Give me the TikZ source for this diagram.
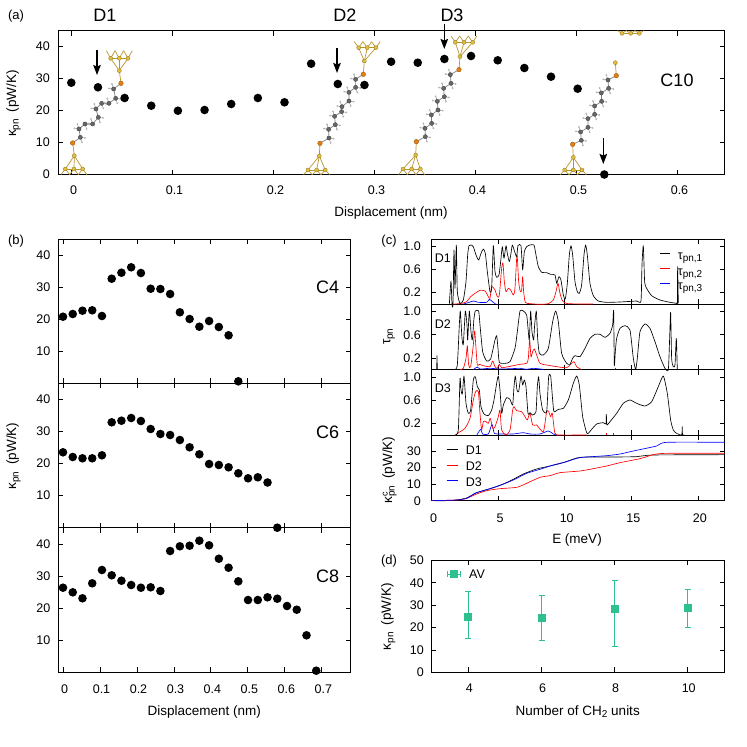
\documentclass[tikz,border=0pt]{standalone}
\usepackage{fontspec}
\usetikzlibrary{arrows.meta}
\setmainfont{Liberation Sans}
\definecolor{goldball}{HTML}{E3BE3C}
\definecolor{goldstick}{HTML}{B8962E}
\definecolor{sulfur}{HTML}{E87F10}
\definecolor{carbon}{HTML}{666666}
\definecolor{hydrogen}{HTML}{B5B5B5}
\definecolor{avgreen}{HTML}{2EC08E}
\tikzset{
	ticklab/.style={font=\fontsize{12.5}{14}\selectfont,inner sep=0pt},
	axislab/.style={font=\fontsize{13.5}{15}\selectfont,inner sep=0pt},
	biglab/.style={font=\fontsize{18}{20}\selectfont,inner sep=0pt},
	frameline/.style={line width=0.9pt},
	tickline/.style={line width=0.7pt},
	curve/.style={line width=0.65pt,line join=round},
	goldstk/.style={goldstick,line width=0.7pt},
	bond/.style={gray,line width=0.7pt},
	avbar/.style={avgreen,line width=0.8pt},
}
\newcommand\subs[1]{\raisebox{-2.5pt}{\fontsize{10}{10}\selectfont #1}}
% atoms, everything in the 3x crop coordinates of the scope around them
\newcommand\atom[3]{\filldraw[fill=#1,draw=#1!65!black,line width=0.35pt] (#2) circle (#3);}
\newcommand\goldbase[3]{%
	\draw[goldstk] (#1-26,#2)--(#1+26,#2);
	\foreach \d in {-26,0,26}{
		\draw[goldstk] (#1+\d-13,#3)--(#1+\d,#2)--(#1+\d+13,#3);
		\atom{goldball}{#1+\d,#2}{2pt}
	}
}
\newcommand\goldtip[5]{%
	\foreach \d in {-26,0,26}
		\draw[goldstk] (#1,#2)--(#3+\d,#4);
	\goldbase{#3}{#4}{#5}
	\atom{goldball}{#1,#2}{2pt}
}
\newcommand\alkyl[5]{%
	\draw[bond] (#1,#2) foreach \cx/\cy in {#3} {--(\cx,\cy)} --(#4,#5);
	\foreach \cx/\cy [count=\i] in {#3}{
		\ifodd\i \def\sg{1}\else\def\sg{-1}\fi
		\draw[bond,line width=0.4pt] (\cx+\sg*14,\cy+\sg*2)--(\cx,\cy)--(\cx+\sg*5,\cy+\sg*15);
		\fill[hydrogen] (\cx+\sg*14,\cy+\sg*2) circle (1pt);
		\fill[hydrogen] (\cx+\sg*5,\cy+\sg*15) circle (1pt);
		\atom{carbon}{\cx,\cy}{2.1pt}
	}
	\atom{sulfur}{#1,#2}{2.3pt}
	\atom{sulfur}{#4,#5}{2.3pt}
}
\newcommand\kappadots[3]{%
	\foreach \yy [count=\i] in {#3}
		\fill (#1+#2*\i-#2,\yy) circle (4.3pt);
}
\begin{document}
\begin{tikzpicture}[x=1pt,y=-1pt,>={Stealth[length=10pt,width=7.5pt,inset=1.5pt]}]
	\useasboundingbox (0,0) rectangle (747,747);
	% panel (a)
	\draw[frameline] (58.3,30.5) rectangle (724.7,174.5);
	\foreach \tx/\tl [count=\i] in {71.5/0,172.5/0.1,273.5/0.2,374.5/0.3,475.5/0.4,576.5/0.5,677.5/0.6}{
		\draw[tickline] (\tx,30.5)--(\tx,35.5) (\tx,174.5)--(\tx,169.5);
		\node[ticklab] (xa\i) at (\tx+2,190) {\tl};
	}
	\foreach \ty/\tl [count=\i] in {174.5/0,142.5/10,110.5/20,78.5/30,46.5/40}{
		\draw[tickline] (58.3,\ty)--(63.3,\ty) (724.7,\ty)--(719.7,\ty);
		\node[ticklab,anchor=east] (ya\i) at (50,\ty) {\tl};
	}
	\begin{scope}[x=0.3333pt,y=-0.3333pt]
		\draw[goldstk] (218,429)--(223,467) (363,250)--(358,212);
		\goldtip{223}{467}{222}{507}{524}
		\goldtip{358}{212}{358}{175}{152}
		\alkyl{218}{429}{241/412,237/387,255/372,278/372,295/352,288/327,305/310,327/310,347/295,341/267}{363}{250}
		\draw[goldstk] (960,430)--(958,468) (1090,223)--(1093,183);
		\goldtip{958}{468}{950}{510}{524}
		\goldtip{1093}{183}{1102}{143}{125}
		\alkyl{960}{430}{987/414,986/388,1006/374,1004/349,1025/335,1026/320,1047/303,1047/277,1067/262,1067/238}{1090}{223}
	\end{scope}
	\begin{scope}[shift={(374,0)},x=0.3333pt,y=-0.3333pt]
		\draw[goldstk] (127,425)--(125,465) (255,209)--(258,170);
		\goldtip{125}{465}{113}{507}{524}
		\goldtip{258}{170}{270}{127}{108}
		\alkyl{127}{425}{154/410,153/385,173/370,172/345,192/330,190/304,211/290,209/265,231/250,229/224}{255}{209}
		\draw[goldstk] (596,433)--(598,472) (727,227)--(724,188);
		\goldtip{598}{472}{598}{510}{524}
		\goldbase{770}{100}{92}
		\atom{goldball}{724,188}{2pt}
		\alkyl{596}{433}{622/421,620/396,642/382,642/356,662/343,662/318,683/304,682/279,704/265,702/240}{727}{227}
	\end{scope}
	\kappadots{71.3}{26.65}{82.7,87.3,98,105.7,110.7,110,104,98,102.3,63.7,84,85,61.7,62.7,59,56,60.3,68,76.7,88.7,174.5}
	\foreach \ax/\ya/\yb in {97/50/75,337/48/73,444.3/24/49,603.3/138/164}
		\draw[->,line width=1.4pt] (\ax,\ya)--(\ax,\yb);
	\node[ticklab,font=\fontsize{13}{15}\selectfont] (laba) at (16,16) {(a)};
	\node[biglab] (d1) at (105,15) {D1};
	\node[biglab] (d2) at (345,15) {D2};
	\node[biglab] (d3) at (452,15) {D3};
	\node[biglab] (c10) at (677,80) {C10};
	\node[axislab] (xlaba) at (391,213) {Displacement (nm)};
	\node[axislab,rotate=90] (ylaba) at (13.5,103.5) {κ\subs{pn}\hspace{3pt} (pW/K)};
	% panel (b)
	\foreach \pt/\pb in {239/383.3,383.3/527.7,527.7/672.3}{
		\draw[frameline] (58.3,\pt) rectangle (350.7,\pb);
		\foreach \tx in {63,100,137,174,210.8,247.8,284.8,321.8}
			\draw[tickline] (\tx,\pt)--(\tx,\pt+5) (\tx,\pb)--(\tx,\pb-5);
		\foreach \k in {10,20,30,40}{
			\draw[tickline] (58.3,\pb-3.21*\k)--(63.3,\pb-3.21*\k) (350.7,\pb-3.21*\k)--(345.7,\pb-3.21*\k);
			\node[ticklab,anchor=east] (yb\k\pt) at (50.5,\pb-3.21*\k) {\k};
		}
	}
	\foreach \tx/\tl [count=\i] in {63/0,100/0.1,137/0.2,174/0.3,210.8/0.4,247.8/0.5,284.8/0.6,321.8/0.7}
		\node[ticklab] (xb\i) at (\tx+1.5,688.7) {\tl};
	\kappadots{63}{9.74}{316.7,314,310.7,310.3,316,278.7,272.7,267.3,273,288.7,289,294,312.3,319,326.7,321,327,335.3,381.3}
	\kappadots{63}{9.74}{452.3,457,458.3,458.3,455.3,422.3,420.7,418,421,429,434,435,440,447.3,454.3,464,465,467.3,473.3,478.3,477.3,482.5,527.7}
	\kappadots{63}{9.74}{587.7,592.3,598.3,583.3,570,575.3,580.7,585,587.7,587.3,591,551,546.3,545.7,540.7,545.3,558.7,567.7,581.3,600,600,597.3,598.7,606,609.7,635.3,670.7}
	\node[ticklab,font=\fontsize{13}{15}\selectfont] (labb) at (16,241) {(b)};
	\node[biglab] (c4) at (327.7,287.7) {C4};
	\node[biglab] (c6) at (327.7,432.3) {C6};
	\node[biglab] (c8) at (327.7,576.7) {C8};
	\node[axislab] (xlabb) at (204.3,711.7) {Displacement (nm)};
	\node[axislab,rotate=90] (ylabb) at (13.5,456) {κ\subs{pn}\hspace{3pt} (pW/K)};
	% panel (c)
	\foreach \pt/\pb in {239/304.3,304.3/369.7,369.7/435.3,435.3/500.7}{
		\draw[frameline] (431.3,\pt) rectangle (724.7,\pb);
		\foreach \tx in {498.1,564.7,631.3,697.9}
			\draw[tickline] (\tx,\pt)--(\tx,\pt+5) (\tx,\pb)--(\tx,\pb-5);
	}
	\foreach \pb in {304.3,369.7,435.3}
		\foreach \v/\tl in {0.2/0.2,0.6/0.6,1.0/1.0}{
			\draw[tickline] (431.3,\pb-58.3*\v)--(436.3,\pb-58.3*\v) (724.7,\pb-58.3*\v)--(719.7,\pb-58.3*\v);
			\node[ticklab,anchor=east] (yc\pb\tl) at (421,\pb-58.3*\v) {\tl};
		}
	\foreach \k in {0,10,20,30}{
		\draw[tickline] (431.3,500.7-1.66*\k)--(436.3,500.7-1.66*\k) (724.7,500.7-1.66*\k)--(719.7,500.7-1.66*\k);
		\node[ticklab,anchor=east] (ycd\k) at (421,500.7-1.66*\k) {\k};
	}
	\foreach \tx/\tl [count=\i] in {431.5/0,498.1/5,564.7/10,631.3/15,697.9/20}
		\node[ticklab] (xc\i) at (\tx+2,518) {\tl};
	\begin{scope}[shift={(380,225)},x=0.3333pt,y=-0.3333pt]
		% D1
		\draw[curve,blue] plot[smooth,tension=0.4] coordinates {(250,237)(265,233)(280,228)(295,232)(320,232)(328,223)(335,228)(345,236)(350,238)};
		\draw[curve,red] plot[smooth,tension=0.4] coordinates {(215,238)(245,235)(260,230)(272,215)(285,205)(300,196)(315,198)(325,215)(330,220)(335,185)(345,195)(352,215)(358,210)(365,130)(369,115)(373,170)(378,200)(385,190)(392,195)(400,210)(405,190)(411,90)(416,170)(421,200)(425,195)(428,155)(431,200)(436,232)(450,236)(480,238)(505,236)(520,225)(528,200)(534,175)(540,205)(548,228)(565,236)(640,237)};
		\draw[curve] plot[smooth,tension=0.35] coordinates {(208,238)(213,168)(216,238)(219,238)(222,75)(225,190)(229,60)(232,200)(240,235)(250,225)(258,170)(263,90)(267,62)(273,60)(280,65)(288,90)(296,105)(303,85)(310,72)(316,85)(322,140)(330,200)(335,190)(340,62)(345,140)(350,157)(357,150)(362,110)(367,65)(372,100)(378,62)(382,85)(388,110)(393,85)(397,60)(404,80)(410,95)(414,62)(423,62)(428,135)(433,80)(440,65)(450,60)(462,60)(468,90)(475,125)(485,142)(500,143)(512,148)(525,150)(530,175)(537,155)(543,165)(550,210)(556,222)(562,175)(568,90)(573,62)(578,90)(585,170)(592,200)(598,205)(605,180)(612,90)(617,60)(622,90)(630,175)(640,212)(655,228)(680,232)(720,231)(770,228)(783,228)(786,120)(790,62)(794,170)(800,190)(815,212)(840,225)(870,232)(890,235)(892,235)(893,125)(895,235)};
		% D2
		\draw[curve,blue] plot[smooth,tension=0.4] coordinates {(280,434)(292,426)(300,432)(330,430)(360,432)(395,431)(420,430)(440,433)(460,430)(490,433)};
		\draw[curve,red] plot[smooth,tension=0.4] coordinates {(240,434)(250,430)(258,400)(262,362)(266,420)(272,425)(280,360)(284,318)(288,370)(292,420)(298,418)(310,422)(330,425)(338,408)(345,425)(352,430)(358,418)(365,428)(385,425)(420,418)(440,415)(445,400)(449,345)(453,395)(458,380)(463,372)(470,390)(480,415)(500,420)(530,425)(560,428)(575,415)(582,410)(590,425)(605,434)};
		\draw[curve] (170,434)--(171,392)--(172,434);
		\draw[curve] plot[smooth,tension=0.35] coordinates {(225,434)(232,420)(238,300)(241,258)(246,340)(250,358)(256,258)(261,300)(263,345)(268,258)(273,320)(277,345)(282,280)(286,258)(296,258)(300,300)(308,380)(320,408)(332,402)(345,345)(350,332)(354,370)(358,412)(375,415)(390,410)(405,370)(412,320)(420,258)(430,258)(440,270)(445,320)(448,345)(452,258)(456,320)(461,345)(464,300)(469,258)(473,340)(478,385)(490,390)(505,370)(518,290)(527,258)(535,290)(545,385)(560,415)(570,418)(578,400)(585,392)(600,395)(615,370)(630,340)(645,328)(660,328)(675,337)(690,325)(698,300)(701,258)(703,420)(706,380)(710,340)(720,310)(735,302)(750,315)(760,400)(767,434)(772,400)(780,320)(795,297)(810,310)(825,350)(840,395)(855,430)(865,434)(869,340)(872,262)(875,400)(880,425)(885,420)(889,340)(892,434)};
		\draw[curve,red] (705,433)--(705,430);
	\end{scope}
	\begin{scope}[shift={(380,370)},x=0.3333pt,y=-0.3333pt]
		% D3
		\draw[curve,blue] plot[smooth,tension=0.4] coordinates {(290,196)(302,178)(308,192)(325,192)(336,163)(343,190)(360,192)(400,192)(430,188)(450,192)(480,192)(505,183)(520,192)(535,196)};
		\draw[curve,red] plot[smooth,tension=0.4] coordinates {(225,196)(240,185)(255,175)(270,145)(280,90)(287,65)(295,65)(300,130)(305,180)(310,155)(318,155)(325,160)(331,145)(338,175)(345,170)(355,140)(360,120)(365,180)(378,195)(390,180)(398,120)(402,110)(410,122)(425,125)(435,140)(442,150)(450,130)(458,165)(470,165)(490,185)(500,125)(506,125)(512,140)(517,130)(525,190)(540,195)(620,195)};
		\draw[curve,red] (679,196)--(679,189) (700,196)--(700,190);
		\draw[curve] plot[smooth,tension=0.35] coordinates {(225,196)(235,180)(240,25)(243,60)(247,72)(252,18)(258,100)(265,130)(272,120)(280,30)(286,20)(292,50)(298,60)(303,110)(312,132)(325,137)(335,120)(342,90)(350,40)(355,18)(360,60)(365,130)(370,105)(380,83)(390,88)(398,105)(402,50)(406,18)(411,60)(416,65)(423,18)(428,45)(433,30)(438,50)(444,130)(450,128)(458,135)(468,125)(472,50)(476,20)(480,70)(488,120)(500,125)(506,20)(512,18)(518,90)(522,125)(535,118)(550,115)(565,90)(580,40)(590,18)(598,45)(608,140)(620,188)(625,190)(635,178)(650,162)(670,158)(678,162)(679,133)(681,165)(690,155)(710,130)(730,100)(750,90)(770,100)(795,108)(815,95)(835,50)(850,18)(862,70)(872,150)(880,180)(890,190)(905,195)(907,170)(909,195)(940,196)};
		% accumulated curves
		\draw[curve] plot[smooth,tension=0.4] coordinates {(154,392)(200,392)(230,390)(260,384)(290,368)(330,356)(370,342)(400,328)(430,312)(470,297)(510,288)(550,278)(590,264)(620,261)(700,261)(770,260)(820,255)(1034,254)};
		\draw[curve,red] plot[smooth,tension=0.4] coordinates {(154,392)(230,390)(260,385)(290,372)(320,362)(360,356)(410,352)(440,340)(480,322)(510,317)(540,308)(600,303)(640,296)(680,288)(720,278)(780,266)(820,254)(860,250)(1034,250)};
		\draw[curve,blue] plot[smooth,tension=0.4] coordinates {(154,392)(230,390)(260,385)(285,370)(310,362)(350,350)(400,330)(440,310)(480,298)(520,285)(560,275)(600,263)(680,257)(720,252)(760,243)(830,228)(860,217)(1034,217)};
	\end{scope}
	\node[ticklab,font=\fontsize{13}{15}\selectfont] (labc) at (389,241) {(c)};
	\draw[curve] (660,253.3)--(670,253.3);
	\draw[curve,red] (660,268.3)--(670,268.3);
	\draw[curve,blue] (660,283.3)--(670,283.3);
	\node[ticklab,anchor=west] (tau1) at (677.7,258.3) {τ\subs{pn,1}};
	\node[ticklab,anchor=west] (tau2) at (677.7,274.3) {τ\subs{pn,2}};
	\node[ticklab,anchor=west] (tau3) at (677.7,288.3) {τ\subs{pn,3}};
	\draw[curve] (446.7,449)--(458.3,449);
	\draw[curve,red] (446.7,465)--(458.3,465);
	\draw[curve,blue] (446.7,480.7)--(458.3,480.7);
	\node[ticklab,anchor=west] (legD1) at (465.7,450) {D1};
	\node[ticklab,anchor=west] (legD2) at (465.7,466) {D2};
	\node[ticklab,anchor=west] (legD3) at (465.7,481.7) {D3};
	\node[ticklab,anchor=west] (tagD1) at (434.7,257.7) {D1};
	\node[ticklab,anchor=west] (tagD2) at (434.7,323.7) {D2};
	\node[ticklab,anchor=west] (tagD3) at (434.7,388.3) {D3};
	\node[axislab] (xlabc) at (577,540) {E (meV)};
	\node[axislab,rotate=90] (ylabc) at (389,336.7) {τ\subs{pn}};
	\node[axislab,rotate=90] (ylabd) at (389.5,470) {κ\rlap{\raisebox{4.5pt}{\fontsize{9}{9}\selectfont c}}\subs{pn}\hspace{3pt} (pW/K)};
	% panel (d)
	\draw[frameline] (431.3,560.3) rectangle (724.7,672.3);
	\foreach \k in {0,10,20,30,40,50}{
		\draw[tickline] (431.3,672.3-2.24*\k)--(436.3,672.3-2.24*\k) (724.7,672.3-2.24*\k)--(719.7,672.3-2.24*\k);
		\node[ticklab,anchor=east] (yd\k) at (424,672.3-2.24*\k) {\k};
	}
	\foreach \tx/\tl/\ym/\yt/\yb in {468.3/4/617/591.7/638.7,541.7/6/618.3/595.3/640.7,614.7/8/609/580.3/646.3,687.7/10/608.3/589.3/627.7}{
		\draw[tickline] (\tx,560.3)--(\tx,565.3) (\tx,672.3)--(\tx,667.3);
		\node[ticklab] (xd\tl) at (\tx+1,688) {\tl};
		\draw[avbar] (\tx-3,\yt)--(\tx+3,\yt) (\tx,\yt)--(\tx,\yb) (\tx-3,\yb)--(\tx+3,\yb);
		\fill[avgreen] (\tx-4,\ym-4) rectangle (\tx+4,\ym+4);
	}
	\draw[avbar] (447.3,571.3)--(447.3,577.3) (447.3,574.3)--(460.7,574.3) (460.7,571.3)--(460.7,577.3);
	\fill[avgreen] (450,570.3) rectangle (458,578.3);
	\node[ticklab,anchor=west] (av) at (469,574.3) {AV};
	\node[ticklab,font=\fontsize{13}{15}\selectfont] (labd) at (389,561) {(d)};
	\node[axislab] (xlabd) at (577.7,711.7) {Number of CH\subs{2} units};
	\node[axislab,rotate=90] (ylabe) at (388.3,616.7) {κ\subs{pn}\hspace{3pt} (pW/K)};
\end{tikzpicture}
\end{document}
